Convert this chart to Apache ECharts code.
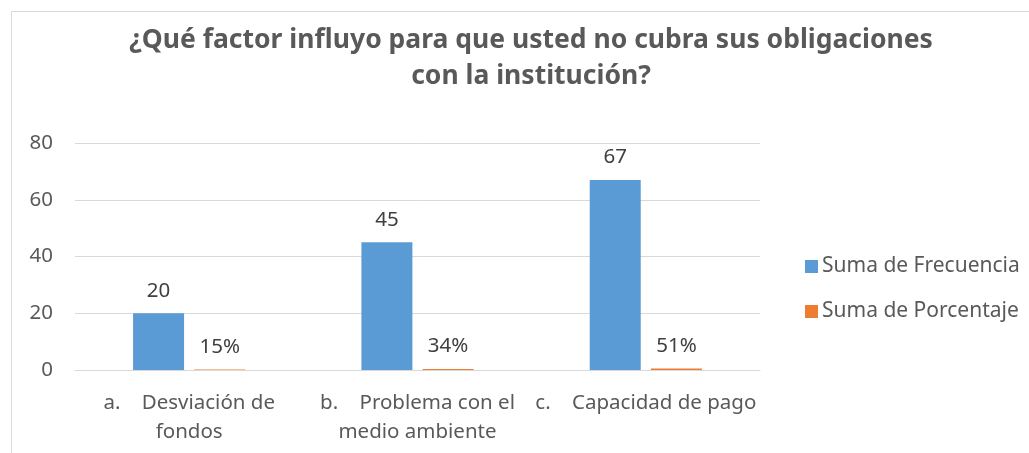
<!DOCTYPE html>
<html>
<head>
<meta charset="utf-8">
<script src="https://cdn.jsdelivr.net/npm/echarts@6/dist/echarts.min.js"></script>
<style>
html, body { margin: 0; padding: 0; background: #fff; }
#chart { width: 1029px; height: 453px; }
</style>
</head>
<body>
<div id="chart"></div>
<script>
var categories = ['a.    Desviación de\nfondos', 'b.    Problema con el\nmedio ambiente', 'c.    Capacidad de pago'];
var frecuencia = [20, 45, 67];
var porcentaje = [0.15, 0.34, 0.51];
var yTicks = { min: 0, max: 80, interval: 20 };

var txt = '#595959';
var font = '"Noto Sans", sans-serif';

var myChart = echarts.init(document.getElementById('chart'));

var option = {
	backgroundColor: '#fff',
	textStyle: { fontFamily: font },
	title: {
		text: '¿Qué factor influyo para que usted no cubra sus obligaciones\ncon la institución?',
		left: 526,
		textAlign: 'center',
		top: 17,
		textStyle: {
			color: txt,
			fontSize: 26.5,
			fontWeight: 'bold',
			fontFamily: font,
			lineHeight: 36
		}
	},
	graphic: [{
		type: 'rect',
		shape: { x: 11.5, y: 11.5, width: 1100, height: 500 },
		style: { fill: 'none', stroke: '#d9d9d9', lineWidth: 1 },
		silent: true
	}],
	legend: {
		orient: 'vertical',
		left: 805,
		top: 256,
		padding: 0,
		itemWidth: 13,
		itemHeight: 13,
		itemGap: 24,
		icon: 'rect',
		textStyle: { color: txt, fontSize: 21, fontFamily: font, padding: [0, 0, 0, -1] },
		data: ['Suma de Frecuencia', 'Suma de Porcentaje']
	},
	grid: { left: 75, right: 269, top: 143, bottom: 83 },
	xAxis: {
		type: 'category',
		data: categories,
		axisLine: { lineStyle: { color: '#d9d9d9', width: 1 } },
		axisTick: { show: false },
		axisLabel: {
			color: txt,
			fontSize: 20.5,
			lineHeight: 29,
			margin: 19,
			interval: 0,
			align: 'center'
		}
	},
	yAxis: {
		type: 'value',
		min: yTicks.min,
		max: yTicks.max,
		interval: yTicks.interval,
		axisLine: { show: false },
		axisTick: { show: false },
		splitLine: { lineStyle: { color: '#d9d9d9', width: 1 } },
		axisLabel: { color: txt, fontSize: 20.5, margin: 22 }
	},
	series: [{
		name: 'Suma de Frecuencia',
		type: 'bar',
		data: frecuencia,
		barWidth: 51,
		barGap: '20%',
		itemStyle: { color: '#5b9bd5' },
		label: {
			show: true,
			position: 'top',
			distance: 12,
			color: '#404040',
			fontSize: 20.5
		}
	}, {
		name: 'Suma de Porcentaje',
		type: 'bar',
		data: porcentaje,
		barWidth: 51,
		itemStyle: { color: '#ed7d31' },
		label: {
			show: true,
			position: 'top',
			distance: 12,
			color: '#404040',
			fontSize: 20.5,
			formatter: function(p) {
				return Math.round(p.value * 100) + '%';
			}
		}
	}]
};

myChart.setOption(option);
</script>
</body>
</html>
